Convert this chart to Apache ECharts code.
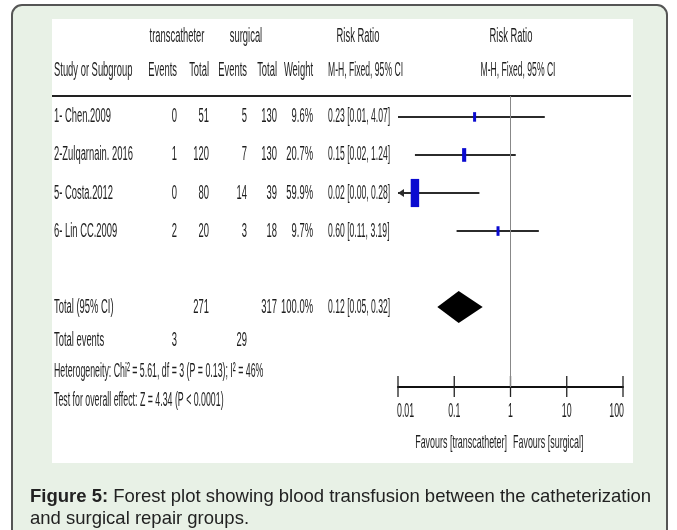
<!DOCTYPE html>
<html><head><meta charset="utf-8">
<script src="https://cdn.jsdelivr.net/npm/echarts@6/dist/echarts.min.js"></script>
<style>html,body{margin:0;padding:0;background:#fff}#c{width:677px;height:530px}</style>
</head><body><div id="c"></div>
<script>
// ---- data ----
const studies = ['1- Chen.2009', '2-Zulqarnain. 2016', '5- Costa.2012', '6- Lin CC.2009'];
const tEvents = [0, 1, 0, 2];
const tTotal = [51, 120, 80, 20];
const sEvents = [5, 7, 14, 3];
const sTotal = [130, 130, 39, 18];
const weights = [9.6, 20.7, 59.9, 9.7];
const rr = [0.23, 0.15, 0.02, 0.60];
const rrLo = [0.01, 0.02, 0.00, 0.11];
const rrHi = [4.07, 1.24, 0.28, 3.19];
const totalLabel = 'Total (95% CI)';
const totalT = 271, totalS = 317, totalW = 100.0;
const totalRR = [0.12, 0.05, 0.32];
const totalEvT = 3, totalEvS = 29;
const hetText = 'Heterogeneity: Chi² = 5.61, df = 3 (P = 0.13); I² = 46%';
const testText = 'Test for overall effect: Z = 4.34 (P < 0.0001)';
const axisTicks = [0.01, 0.1, 1, 10, 100];
const favLeft = 'Favours [transcatheter]', favRight = 'Favours [surgical]';
const caption1b = 'Figure 5:';
const caption1 = ' Forest plot showing blood transfusion between the catheterization';
const caption2 = 'and surgical repair groups.';

// ---- style ----
const NARROW = "'Liberation Sans',Arial,sans-serif";
const FONT = "'Liberation Sans',Arial,sans-serif";
const SX = 0.47;
const TXT = '#1e1e1e';
const FS = 20;
const XMIN = axisTicks[0], XMAX = axisTicks[axisTicks.length - 1];
const TOTAL_ROW = 5;
const fmt = v => v.toFixed(2);
const ciText = (r, l, h) => fmt(r) + ' [' + fmt(l) + ', ' + fmt(h) + ']';

function T(text, x, y, o) {
  o = o || {};
  return {
    type: 'text', x: x, y: y, scaleX: o.sx != null ? o.sx : SX, originX: 0, originY: 0, silent: true, z: 10,
    style: {
      text: String(text), x: 0, y: 0, align: o.align || 'left', verticalAlign: 'middle',
      fill: o.color || TXT, fontSize: o.fs || FS, fontFamily: o.ff || NARROW, fontWeight: o.fw || 'normal'
    }
  };
}

// column x positions (layout)
const COL = {study: 54, tE: 177, tT: 209, sE: 247, sT: 277, w: 313, ci: 328};
const CI_SX = 0.43;

const rows = studies.map((s, i) => [1, i]);
const ciData = rr.map((r, i) => [r, rrLo[i], rrHi[i], weights[i], i]);
const YMAX = 7.1;

const chart = echarts.init(document.getElementById('c'));
const graphics = [
  {type: 'rect', shape: {x: 12, y: 5, width: 655, height: 570, r: 10}, style: {fill: '#e8f1e6', stroke: '#555', lineWidth: 2}, z: -10, silent: true},
  {type: 'rect', shape: {x: 52, y: 19, width: 581, height: 444}, style: {fill: '#ffffff'}, z: -9, silent: true},
  {type: 'line', shape: {x1: 52, y1: 96, x2: 631, y2: 96}, style: {stroke: '#222', lineWidth: 2}, z: 5, silent: true},
  T('transcatheter', 177, 36, {align: 'center'}),
  T('surgical', 246, 36, {align: 'center'}),
  T('Risk Ratio', 358, 36, {align: 'center'}),
  T('Risk Ratio', 511, 36, {align: 'center'}),
  T('Study or Subgroup', COL.study, 70),
  T('Events', COL.tE, 70, {align: 'right'}),
  T('Total', COL.tT, 70, {align: 'right'}),
  T('Events', COL.sE, 70, {align: 'right'}),
  T('Total', COL.sT, 70, {align: 'right'}),
  T('Weight', COL.w, 70, {align: 'right'}),
  T('M-H, Fixed, 95% CI', COL.ci, 70, {sx: CI_SX}),
  T('M-H, Fixed, 95% CI', 518, 70, {align: 'center', sx: CI_SX}),
  T('Total events', COL.study, 340),
  T(totalEvT, COL.tE, 340, {align: 'right'}),
  T(totalEvS, COL.sE, 340, {align: 'right'}),
  T(hetText, COL.study, 371, {sx: 0.44}),
  T(testText, COL.study, 400, {sx: 0.44}),
  T(favLeft, 507, 443, {align: 'right', fs: 19, sx: 0.47}),
  T(favRight, 513, 443, {fs: 19, sx: 0.47}),
  {
    type: 'text', x: 30, y: 497, silent: true,
    style: {
      text: '{b|' + caption1b + '}' + caption1, fill: '#222', fontSize: 18.5, fontFamily: FONT, verticalAlign: 'middle',
      rich: {b: {fontWeight: 'bold', fontSize: 18.5, fontFamily: FONT, fill: '#222'}}
    }
  },
  {type: 'text', x: 30, y: 519, silent: true, style: {text: caption2, fill: '#222', fontSize: 18.5, fontFamily: FONT, verticalAlign: 'middle'}}
];

chart.setOption({
  animation: false,
  backgroundColor: 'transparent',
  graphic: graphics,
  grid: {left: 398, top: 96, width: 225, height: 291, containLabel: false},
  xAxis: {
    type: 'log', logBase: 10, min: XMIN, max: XMAX,
    axisLine: {show: true, onZero: false, lineStyle: {color: '#111', width: 2}},
    axisTick: {show: false},
    axisLabel: {show: false},
    splitLine: {show: false}
  },
  yAxis: {type: 'value', min: -0.55, max: YMAX, inverse: true, show: false},
  series: [
    {
      type: 'custom', clip: false, data: ciData, encode: {x: 0, y: 4},
      renderItem: function (params, api) {
        const r = api.value(0), lo = api.value(1), hi = api.value(2), w = api.value(3), i = api.value(4);
        const y = api.coord([1, i])[1];
        const xMin = api.coord([XMIN, i])[0];
        const xr = api.coord([r, i])[0];
        const clipped = !(lo >= XMIN);
        const xlo = clipped ? xMin : api.coord([lo, i])[0];
        const xhi = api.coord([hi, i])[0];
        const h = 6 + 0.37 * w, bw = Math.max(3, h * 0.3);
        const ch = [
          {type: 'line', shape: {x1: xlo, y1: y, x2: xhi, y2: y}, style: {stroke: '#2b2b2b', lineWidth: 2}},
          {type: 'rect', shape: {x: xr - bw / 2, y: y - h / 2, width: bw, height: h}, style: {fill: '#0a0ad0'}}
        ];
        if (clipped) ch.push({type: 'polygon', shape: {points: [[xMin, y], [xMin + 6, y - 4], [xMin + 6, y + 4]]}, style: {fill: '#2b2b2b'}});
        return {type: 'group', children: ch};
      },
      markLine: {
        silent: true, symbol: 'none', label: {show: false},
        lineStyle: {color: '#888', width: 1, type: 'solid'},
        data: [{xAxis: 1}]
      }
    },
    {
      type: 'custom', clip: false, data: [[totalRR[0], totalRR[1], totalRR[2], TOTAL_ROW]], encode: {x: 0, y: 3},
      renderItem: function (params, api) {
        const i = api.value(3);
        const y = api.coord([1, i])[1];
        const xr = api.coord([api.value(0), i])[0];
        const xl = api.coord([api.value(1), i])[0];
        const xh = api.coord([api.value(2), i])[0];
        return {type: 'polygon', shape: {points: [[xl, y], [xr, y - 16], [xh, y], [xr, y + 16]]}, style: {fill: '#000'}};
      }
    },
    {
      // ticks (crossing the axis line) and tick labels, positioned through the axis scale
      type: 'custom', clip: false, data: axisTicks.map(v => [v, YMAX]), encode: {x: 0, y: 1},
      renderItem: function (params, api) {
        const v = api.value(0);
        const p = api.coord([v, api.value(1)]);
        const n = axisTicks.length;
        const align = params.dataIndex === 0 ? 'left' : (params.dataIndex === n - 1 ? 'right' : 'center');
        const lx = params.dataIndex === 0 ? p[0] - 1 : (params.dataIndex === n - 1 ? p[0] + 1 : p[0]);
        return {type: 'group', children: [
          {type: 'line', shape: {x1: p[0], y1: p[1] - 11, x2: p[0], y2: p[1] + 10}, style: {stroke: '#222', lineWidth: 1.3}},
          T(String(v), lx, p[1] + 24, {align: align, fs: 20, sx: 0.44})
        ]};
      }
    },
    {
      type: 'custom', clip: false, data: rows.concat([[1, TOTAL_ROW]]), encode: {x: 0, y: 1},
      renderItem: function (params, api) {
        const i = api.value(1);
        const y = api.coord([1, i])[1];
        if (i === TOTAL_ROW) {
          return {type: 'group', children: [
            T(totalLabel, COL.study, y),
            T(totalT, COL.tT, y, {align: 'right'}),
            T(totalS, COL.sT, y, {align: 'right'}),
            T(totalW.toFixed(1) + '%', COL.w, y, {align: 'right'}),
            T(ciText(totalRR[0], totalRR[1], totalRR[2]), COL.ci, y, {sx: CI_SX})
          ]};
        }
        return {type: 'group', children: [
          T(studies[i], COL.study, y),
          T(tEvents[i], COL.tE, y, {align: 'right'}),
          T(tTotal[i], COL.tT, y, {align: 'right'}),
          T(sEvents[i], COL.sE, y, {align: 'right'}),
          T(sTotal[i], COL.sT, y, {align: 'right'}),
          T(weights[i].toFixed(1) + '%', COL.w, y, {align: 'right'}),
          T(ciText(rr[i], rrLo[i], rrHi[i]), COL.ci, y, {sx: CI_SX})
        ]};
      }
    }
  ]
});
</script></body></html>
